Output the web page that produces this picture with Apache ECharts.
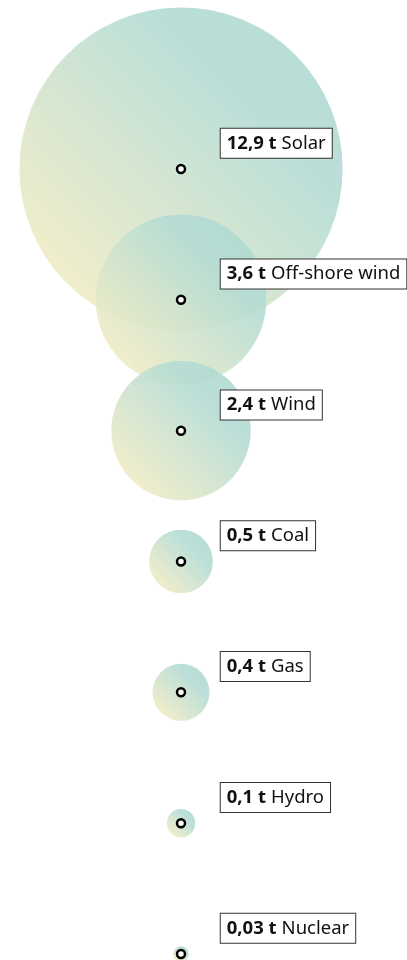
<!DOCTYPE html>
<html>
<head>
<meta charset="utf-8">
<script src="https://cdn.jsdelivr.net/npm/echarts@6/dist/echarts.min.js"></script>
<style>
  html, body { margin: 0; padding: 0; background: #ffffff; }
  #chart { width: 407px; height: 960px; }
</style>
</head>
<body>
<div id="chart"></div>
<script>
// Material use per energy source, tonnes
const sources = ['Solar', 'Off-shore wind', 'Wind', 'Coal', 'Gas', 'Hydro', 'Nuclear'];
const tonnes = [12.9, 3.6, 2.4, 0.5, 0.4, 0.1, 0.03];
const valueLabels = ['12,9 t', '3,6 t', '2,4 t', '0,5 t', '0,4 t', '0,1 t', '0,03 t'];

// bubble area proportional to value
const sizeScale = 90;
const bubbleSize = v => sizeScale * Math.sqrt(v);

const bubbleFill = new echarts.graphic.LinearGradient(0, 1, 1, 0, [
  { offset: 0, color: '#fff0c2' },
  { offset: 0.7, color: '#b4dcd4' },
  { offset: 1, color: '#b0dad2' }
]);

const chart = echarts.init(document.getElementById('chart'), null, { renderer: 'canvas' });

chart.setOption({
  animation: false,
  grid: { left: 0, width: 362, top: 169, bottom: 6 },
  xAxis: {
    type: 'category',
    data: ['x'],
    boundaryGap: true,
    show: false
  },
  yAxis: {
    type: 'category',
    data: sources,
    inverse: true,
    boundaryGap: false,
    show: false
  },
  series: [
    {
      type: 'scatter',
      name: 'bubbles',
      data: tonnes.map((v, i) => ({ value: ['x', sources[i]], symbolSize: bubbleSize(v) })),
      itemStyle: { color: bubbleFill, opacity: 0.9 },
      silent: true,
      z: 1
    },
    {
      type: 'scatter',
      name: 'markers',
      data: tonnes.map((v, i) => ({ value: ['x', sources[i]] })),
      symbol: 'circle',
      symbolSize: 8,
      itemStyle: { color: '#ffffff', borderColor: '#000000', borderWidth: 2.5, opacity: 1 },
      label: {
        show: true,
        position: [45, -35],
        formatter: p => '{b|' + valueLabels[p.dataIndex] + '}{n|' + sources[p.dataIndex] + '}',
        backgroundColor: '#ffffff',
        borderColor: '#333333',
        borderWidth: 1,
        padding: [4, 6, 4, 6],
        rich: {
          b: { fontFamily: 'Noto Sans', fontWeight: 'bold', fontSize: 18.5, color: '#111111', lineHeight: 21 },
          n: { fontFamily: 'Noto Sans', fontSize: 18.5, color: '#111111', lineHeight: 21, padding: [0, 0, 0, 5] }
        }
      },
      silent: true,
      z: 3
    }
  ]
});
</script>
</body>
</html>
